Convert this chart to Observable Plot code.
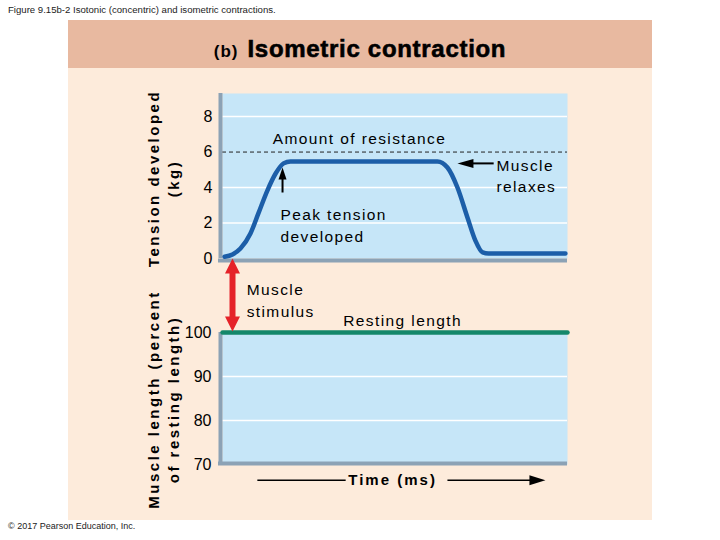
<!DOCTYPE html>
<html>
<head>
<meta charset="utf-8">
<script src="https://cdn.jsdelivr.net/npm/d3@7"></script>
<script src="https://cdn.jsdelivr.net/npm/@observablehq/plot@0.6"></script>
<style>
  body { margin: 0; background: #ffffff; font-family: "Liberation Sans", Arial, sans-serif; }
  #wrap { position: relative; width: 720px; height: 540px; overflow: hidden; }
  #fig { position: absolute; left: 8px; top: 4px; font-size: 9.6px; color: #222; white-space: nowrap; }
  #copy { position: absolute; left: 8px; top: 521px; font-size: 9px; color: #222; white-space: nowrap; }
  #panel { position: absolute; left: 68px; top: 20px; width: 584px; height: 500px; background: #fdebdb; }
  #header { position: absolute; left: 0; top: 0; width: 584px; height: 48px; background: #e8b9a0;
            display: flex; justify-content: center; align-items: baseline; padding-top: 15px; box-sizing: border-box; }
  #header .b { font-weight: bold; font-size: 17px; letter-spacing: 1px; margin-right: 9px; }
  #header .t { font-weight: bold; font-size: 24px; letter-spacing: 0.7px; -webkit-text-stroke: 0.6px #000; }
  .plot { position: absolute; left: 0; }
</style>
</head>
<body>
<div id="wrap">
  <div id="fig">Figure 9.15b-2 Isotonic (concentric) and isometric contractions.</div>
  <div id="panel">
    <div id="header"><span class="b">(b)</span><span class="t">Isometric contraction</span></div>
  </div>
  <div id="copy">© 2017 Pearson Education, Inc.</div>
</div>
<script>
// ---- data ----
const timeMs    = [0.6, 2.9, 5.2, 8.1, 10.4, 13.0, 15.4, 17.7, 19.7, 62.3, 65.2, 68.1, 71.0, 73.3, 75.4, 77.1, 99.4];
const tensionKg = [0.1, 0.23, 0.56, 1.41, 2.54, 3.83, 4.79, 5.36, 5.47, 5.47, 5.13, 4.0, 2.31, 1.01, 0.34, 0.28, 0.28];
const resistanceKg = [6];
const tensionTicks = [0, 2, 4, 6, 8];
const tensionGrid = [2, 4, 8];
const lengthTime = [0, 100];
const lengthPct = [100, 100];
const lengthTicks = [70, 80, 90, 100];
const lengthGrid = [80, 90];

// ---- styles ----
const FONT = '"Liberation Sans", Arial, sans-serif';
const BLUE = "#c6e6f8", GRAY = "#8ca2b5", CURVE = "#1c5ea8", GREEN = "#14876a", RED = "#e52229";
const tri = (pts) => ({ draw(ctx) { ctx.moveTo(pts[0][0], pts[0][1]); for (let i = 1; i < pts.length; i++) ctx.lineTo(pts[i][0], pts[i][1]); ctx.closePath(); } });
const triDown  = tri([[0, 0], [-7.5, -15], [7.5, -15]]);
const triUpBig = tri([[0, 0], [-7.5, 15], [7.5, 15]]);
const triUp    = tri([[0, 0], [-4, 12], [4, 12]]);
const triLeft  = tri([[0, 0], [16, -4.5], [16, 4.5]]);
const triRight = tri([[0, 0], [-16, -5], [-16, 5]]);

const tension = timeMs.map((t, i) => ({ t, v: tensionKg[i] }));
const length = lengthTime.map((t, i) => ({ t, v: lengthPct[i] }));

const p1 = Plot.plot({
  width: 720, height: 200,
  marginLeft: 222, marginRight: 153, marginTop: 13, marginBottom: 22,
  x: { domain: [0, 100], axis: null },
  y: { domain: [0, 9.3], axis: null },
  style: { background: "transparent", overflow: "visible", fontFamily: FONT, color: "#000" },
  marks: [
    Plot.frame({ fill: BLUE, stroke: "none" }),
    Plot.ruleY(tensionGrid, { stroke: "white", strokeWidth: 1.6 }),
    Plot.ruleY(resistanceKg, { stroke: "#222", strokeWidth: 1, strokeDasharray: "4,3" }),
    Plot.ruleX([0], { stroke: GRAY, strokeWidth: 4, dx: -2 }),
    Plot.ruleY([0], { stroke: GRAY, strokeWidth: 4, dy: 2, insetLeft: -4 }),
    Plot.line(tension, { x: "t", y: "v", curve: "monotone-x", stroke: CURVE, strokeWidth: 4.5 }),
    Plot.axisY(tensionTicks, { anchor: "left", tickSize: 0, tickPadding: 10, fontSize: 16, label: null }),
    Plot.text(["Tension developed\n(kg)"], { frameAnchor: "left", text: d => d, rotate: -90, dx: -60, dy: 2.5,
      fontSize: 15, fontWeight: "bold", lineHeight: 1.33, textAnchor: "middle" }),
    Plot.text([{ t: 39.7, v: 6.71, s: "Amount of resistance" }], { x: "t", y: "v", text: "s", fontSize: 15.5, textAnchor: "middle" }),
    Plot.text([{ t: 79.4, v: 4.71, s: "Muscle\nrelaxes" }], { x: "t", y: "v", text: "s", fontSize: 15.5, textAnchor: "start", lineHeight: 1.38 }),
    Plot.text([{ t: 16.8, v: 1.94, s: "Peak tension\ndeveloped" }], { x: "t", y: "v", text: "s", fontSize: 15.5, textAnchor: "start", lineHeight: 1.38 }),
    Plot.link([{ a: 78.6, b: 71.0, v: 5.36 }], { x1: "a", x2: "b", y1: "v", y2: "v", stroke: "#000", strokeWidth: 2 }),
    Plot.dot([{ t: 68.1, v: 5.36 }], { x: "t", y: "v", symbol: triLeft, fill: "#000", stroke: "none" }),
    Plot.link([{ t: 17.4, a: 3.72, b: 4.6 }], { x1: "t", x2: "t", y1: "a", y2: "b", stroke: "#000", strokeWidth: 2 }),
    Plot.dot([{ t: 17.4, v: 5.13 }], { x: "t", y: "v", symbol: triUp, fill: "#000", stroke: "none" })
  ]
});
p1.classList.add("plot");
p1.style.top = "80px";

const p2 = Plot.plot({
  width: 720, height: 250,
  marginLeft: 222, marginRight: 153, marginTop: 82, marginBottom: 36,
  x: { domain: [0, 100], axis: null },
  y: { domain: [70, 100], axis: null },
  style: { background: "transparent", overflow: "visible", fontFamily: FONT, color: "#000" },
  marks: [
    Plot.frame({ fill: BLUE, stroke: "none" }),
    Plot.ruleY(lengthGrid, { stroke: "white", strokeWidth: 1.6 }),
    Plot.ruleX([0], { stroke: GRAY, strokeWidth: 4, dx: -2 }),
    Plot.ruleY([70], { stroke: GRAY, strokeWidth: 4, dy: -1, insetLeft: -4 }),
    Plot.line(length, { x: "t", y: "v", stroke: GREEN, strokeWidth: 4.5 }),
    Plot.axisY(lengthTicks, { anchor: "left", tickSize: 0, tickPadding: 11, fontSize: 16, label: null }),
    Plot.text(["Muscle length (percent\nof resting length)"], { frameAnchor: "left", text: d => d, rotate: -90, dx: -60, dy: 1,
      fontSize: 15, fontWeight: "bold", lineHeight: 1.33, textAnchor: "middle" }),
    // stimulus double arrow
    Plot.link([{ t: 2.9, a: 114.0, b: 103.0 }], { x1: "t", x2: "t", y1: "a", y2: "b", stroke: RED, strokeWidth: 6 }),
    Plot.dot([{ t: 2.9, v: 116.8 }], { x: "t", y: "v", symbol: triUpBig, fill: RED, stroke: "none" }),
    Plot.dot([{ t: 2.9, v: 100.2 }], { x: "t", y: "v", symbol: triDown, fill: RED, stroke: "none" }),
    Plot.text([{ t: 7.0, v: 107.6, s: "Muscle\nstimulus" }], { x: "t", y: "v", text: "s", fontSize: 15.5, textAnchor: "start", lineHeight: 1.38 }),
    Plot.text([{ t: 52.2, v: 102.7, s: "Resting length" }], { x: "t", y: "v", text: "s", fontSize: 15.5, textAnchor: "middle" }),
    // time axis label with arrow
    Plot.text([{ t: 49.3, v: 66.4, s: "Time (ms)" }], { x: "t", y: "v", text: "s", fontSize: 15, fontWeight: "bold", textAnchor: "middle" }),
    Plot.link([{ a: 10.1, b: 35.7, v: 66.4 }, { a: 65.2, b: 90.0, v: 66.4 }], { x1: "a", x2: "b", y1: "v", y2: "v", stroke: "#000", strokeWidth: 1.5 }),
    Plot.dot([{ t: 93.6, v: 66.4 }], { x: "t", y: "v", symbol: triRight, fill: "#000", stroke: "none" })
  ]
});
p2.classList.add("plot");
p2.style.top = "250px";

// letter spacing tweaks (text styling only)
function spacing(svg) {
  d3.select(svg).selectAll("text").each(function () {
    const s = this.textContent;
    if (/^Tension|^Muscle length/.test(s)) this.style.letterSpacing = "2.5px";
    else if (/^Time/.test(s)) this.style.letterSpacing = "2px";
    else if (/[A-Za-z]/.test(s)) this.style.letterSpacing = "1.4px";
  });
}
spacing(p1); spacing(p2);

const wrap = document.getElementById("wrap");
wrap.appendChild(p1);
wrap.appendChild(p2);
</script>
</body>
</html>
